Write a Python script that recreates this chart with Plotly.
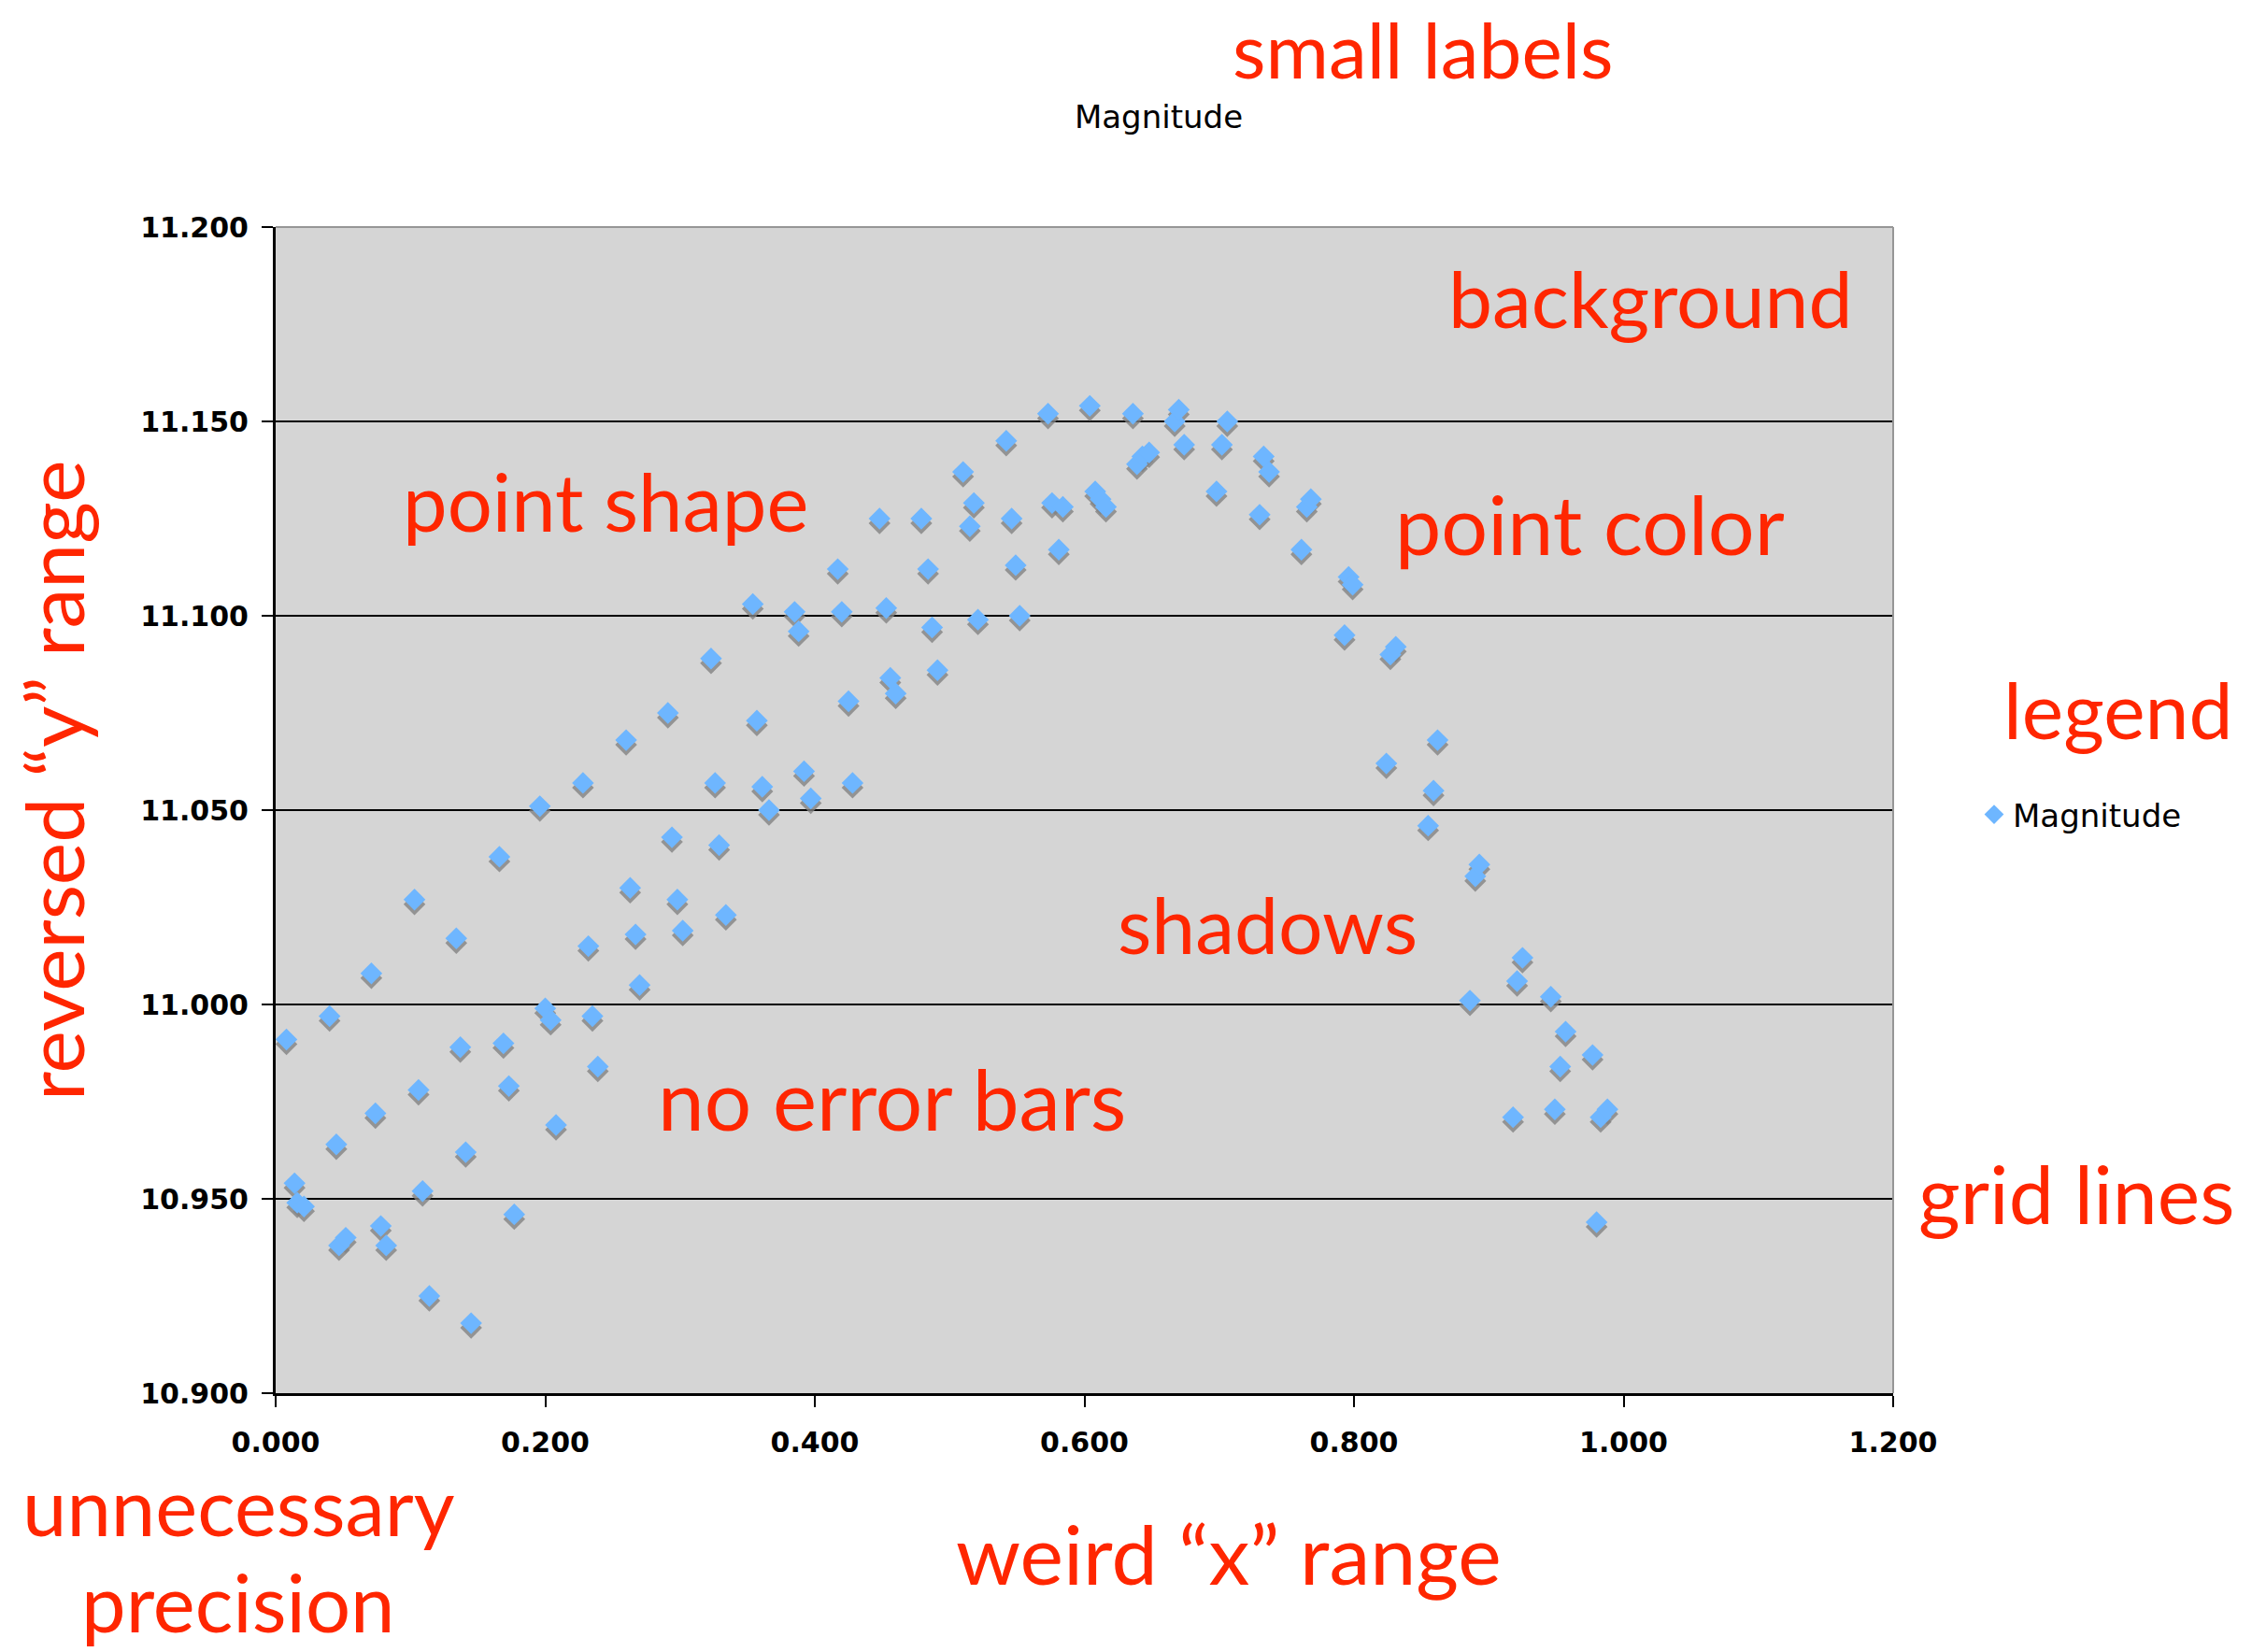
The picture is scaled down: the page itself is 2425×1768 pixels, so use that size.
import plotly.graph_objects as go

# ---------------- data (phase, magnitude) ----------------
phase = [0.008, 0.014, 0.016, 0.021, 0.040, 0.045, 0.047, 0.052, 0.071, 0.074, 0.078, 0.082,
         0.103, 0.106, 0.109, 0.114, 0.134, 0.137, 0.141, 0.145, 0.166, 0.169, 0.173, 0.177,
         0.196, 0.200, 0.204, 0.208, 0.228, 0.232, 0.235, 0.239, 0.260, 0.263, 0.267, 0.270,
         0.291, 0.294, 0.298, 0.302, 0.323, 0.326, 0.329, 0.334, 0.354, 0.357, 0.361, 0.366,
         0.385, 0.388, 0.392, 0.397, 0.417, 0.420, 0.425, 0.428, 0.448, 0.453, 0.456, 0.460,
         0.479, 0.484, 0.487, 0.491, 0.510, 0.515, 0.518, 0.521, 0.542, 0.546, 0.549, 0.552,
         0.573, 0.576, 0.581, 0.584, 0.604, 0.608, 0.612, 0.616, 0.636, 0.639, 0.643, 0.648,
         0.667, 0.670, 0.674, 0.698, 0.702, 0.706, 0.730, 0.733, 0.737, 0.761, 0.765, 0.768,
         0.793, 0.796, 0.799, 0.824, 0.827, 0.831, 0.855, 0.859, 0.862, 0.886, 0.890, 0.893,
         0.918, 0.921, 0.925, 0.946, 0.949, 0.953, 0.957, 0.977, 0.980, 0.983, 0.988]
magnitude = [10.991, 10.954, 10.949, 10.948, 10.997, 10.964, 10.938, 10.940, 11.008, 10.972, 10.943, 10.938,
             11.027, 10.978, 10.952, 10.925, 11.017, 10.989, 10.962, 10.918, 11.038, 10.990, 10.979, 10.946,
             11.051, 10.999, 10.996, 10.969, 11.057, 11.015, 10.997, 10.984, 11.068, 11.030, 11.018, 11.005,
             11.075, 11.043, 11.027, 11.019, 11.089, 11.057, 11.041, 11.023, 11.103, 11.073, 11.056, 11.050,
             11.101, 11.096, 11.060, 11.053, 11.112, 11.101, 11.078, 11.057, 11.125, 11.102, 11.084, 11.080,
             11.125, 11.112, 11.097, 11.086, 11.137, 11.123, 11.129, 11.099, 11.145, 11.125, 11.113, 11.100,
             11.152, 11.129, 11.117, 11.128, 11.154, 11.132, 11.130, 11.128, 11.152, 11.139, 11.141, 11.142,
             11.150, 11.153, 11.144, 11.132, 11.144, 11.150, 11.126, 11.141, 11.137, 11.117, 11.128, 11.130,
             11.095, 11.110, 11.108, 11.062, 11.090, 11.092, 11.046, 11.055, 11.068, 11.001, 11.033, 11.036,
             10.971, 11.006, 11.012, 11.002, 10.973, 10.984, 10.993, 10.987, 10.944, 10.971, 10.973]

x_ticks = [0.0, 0.2, 0.4, 0.6, 0.8, 1.0, 1.2]
y_ticks = [10.90, 10.95, 11.00, 11.05, 11.10, 11.15, 11.20]
series_name = "Magnitude"

# ---------------- layout geometry ----------------
W, H = 2425, 1768
# plot area in canvas pixels
L, R, T, B = 295, 2026, 243, 1491


def paper(xp, yp):
    return (xp - L) / (R - L), (B - yp) / (B - T)


RED = "rgb(255,38,0)"
BLUE = "rgb(110,182,255)"
SHADOW = "rgba(130,130,130,0.8)"
FONT_RED = "Lato"

y_lo, y_hi = 10.9, 11.2
shadow_px = 5
dy = (y_hi - y_lo) * shadow_px / (B - T)

fig = go.Figure()
# shadow trace (base axes, range shifted by a few pixels)
fig.add_trace(go.Scatter(x=phase, y=magnitude, mode="markers", xaxis="x", yaxis="y",
                         marker=dict(symbol="diamond", size=18, color=SHADOW, line=dict(width=0)),
                         showlegend=False, hoverinfo="skip"))
# main trace
fig.add_trace(go.Scatter(x=phase, y=magnitude, mode="markers", xaxis="x", yaxis="y2",
                         name=series_name,
                         marker=dict(symbol="diamond", size=18, color=BLUE, line=dict(width=0))))

tick_font = dict(family="DejaVu Sans", size=30, color="black", weight="bold")

fig.update_layout(
    width=W, height=H,
    margin=dict(l=L, r=W - R, t=T, b=H - B, autoexpand=False),
    paper_bgcolor="white",
    plot_bgcolor="rgb(213,213,213)",
    title=dict(text="Magnitude", x=paper(1240, 0)[0], xref="paper", xanchor="center",
               y=1 - 125 / H, yref="container", yanchor="middle",
               font=dict(family="DejaVu Sans", size=34, color="black")),
    xaxis=dict(range=[0, 1.2], tickvals=x_ticks, tickformat=".3f", showgrid=False, zeroline=False,
               showline=True, linecolor="black", linewidth=3, ticks="outside", ticklen=12,
               tickwidth=2, tickcolor="black", tickfont=tick_font, ticklabelstandoff=12),
    yaxis=dict(range=[y_lo + dy, y_hi + dy], visible=False, showgrid=False, zeroline=False),
    yaxis2=dict(range=[y_lo, y_hi], overlaying="y", anchor="x", side="left", tickvals=y_ticks,
                tickformat=".3f", showgrid=True, gridcolor="black", gridwidth=2, zeroline=False,
                showline=True, linecolor="black", linewidth=3, ticks="outside", ticklen=12,
                tickwidth=2, tickcolor="black", tickfont=tick_font, ticklabelstandoff=8),
    showlegend=True,
    legend=dict(x=paper(2114, 0)[0], y=paper(0, 872)[1], xanchor="left", yanchor="middle",
                bgcolor="rgba(0,0,0,0)", borderwidth=0,
                font=dict(family="DejaVu Sans", size=34, color="black")),
)

# gray top / right frame of the plot area
fig.add_shape(type="line", xref="paper", yref="paper", x0=0, x1=1, y0=1, y1=1,
              line=dict(color="rgb(150,150,150)", width=2), layer="above")
fig.add_shape(type="line", xref="paper", yref="paper", x0=1, x1=1, y0=0, y1=1,
              line=dict(color="rgb(150,150,150)", width=2), layer="above")

# red critique annotations (text, x px, y px, angle, font size)
notes = [
    ("small labels", 1523, 52, 0, 82),
    ("background", 1766, 318, 0, 84),
    ("point shape", 648, 536, 0, 85),
    ("point color", 1701, 560, 0, 88),
    ("legend", 2266, 758, 0, 84),
    ("shadows", 1356, 988, 0, 84),
    ("no error bars", 954, 1175, 0, 89),
    ("grid lines", 2222, 1276, 0, 86),
    ("reversed \u201cy\u201d range", 56, 835, -90, 86),
    ("unnecessary", 255, 1611, 0, 85),
    ("precision", 255, 1714, 0, 85),
    ("weird \u201cx\u201d range", 1315, 1662, 0, 88),
]
for text, xp, yp, ang, fs in notes:
    xx, yy = paper(xp, yp)
    fig.add_annotation(text=text, x=xx, y=yy, xref="paper", yref="paper", showarrow=False,
                       xanchor="center", yanchor="middle", textangle=ang,
                       font=dict(family=FONT_RED, size=fs, color=RED))

# remove the browser's default page margin so the figure fills the window exactly
fig.write_html("out.html", config={"displayModeBar": False},
               post_script="document.body.style.margin='0px';")
